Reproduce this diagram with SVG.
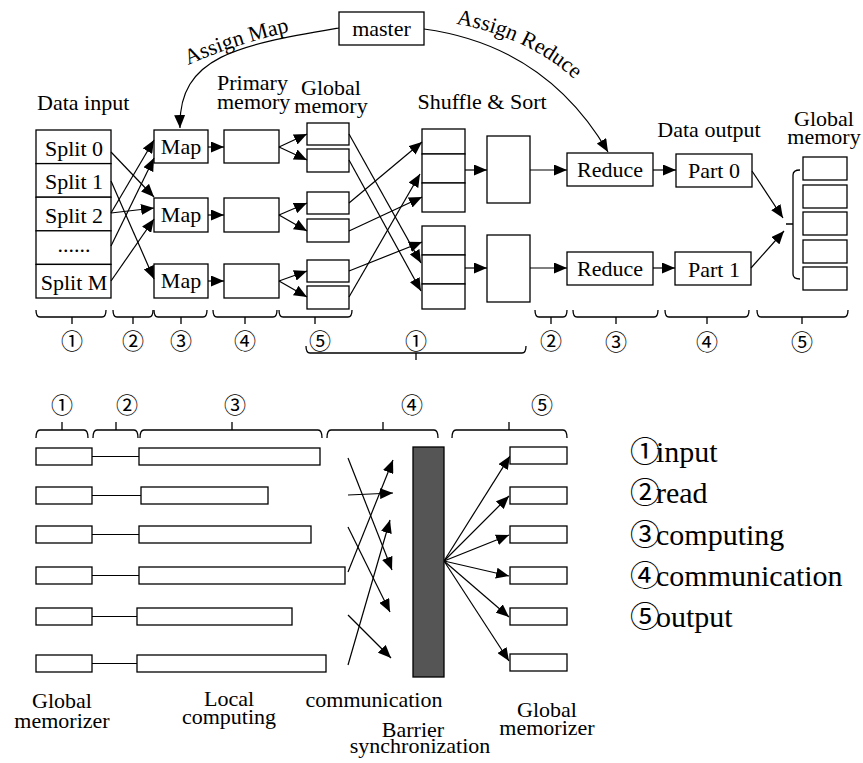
<svg xmlns="http://www.w3.org/2000/svg" width="863" height="763" viewBox="0 0 863 763">
<style>
text{font-family:"Liberation Serif","Times New Roman","DejaVu Serif",serif;fill:#000;font-size:22px}
.m{text-anchor:middle}
.b{fill:#fff;stroke:#000;stroke-width:1.3}
.c{fill:none;stroke:#000;stroke-width:1.2}
.a{marker-end:url(#ah)}
.br{fill:none;stroke:#000;stroke-width:1.3}
.n{font-size:22px;text-anchor:middle;font-family:"Noto Sans CJK SC","Noto Sans CJK JP",sans-serif}
.cj{font-family:"Noto Sans CJK SC","Noto Sans CJK JP",sans-serif}
.lg{font-size:30px}
.bar{fill:#555;stroke:#000;stroke-width:1.3}
</style>
<defs>
<marker id="ah" viewBox="0 0 13 11" refX="13" refY="5.5" markerWidth="13" markerHeight="11" markerUnits="userSpaceOnUse" orient="auto"><path d="M0,0 L13,5.5 L0,11 z" fill="#000"/></marker>
<path id="tpMap" d="M188,65 Q240,42 302,29"/>
<path id="tpRed" d="M456,24 C505,32 555,55 592,97"/>
</defs>

<g id="labels-top">
<text x="37" y="110">Data input</text>
<text x="217" y="90">Primary</text>
<text x="217" y="109">memory</text>
<text x="331" y="95" class="m">Global</text>
<text x="331" y="113" class="m">memory</text>
<text x="482" y="109" class="m">Shuffle &amp; Sort</text>
<text x="709" y="137" class="m">Data output</text>
<text x="824" y="126" class="m">Global</text>
<text x="824" y="144" class="m">memory</text>
</g>

<g id="master"><rect class="b" x="339" y="12" width="85" height="33"/><text x="381.5" y="36" class="m">master</text></g>

<g id="splits">
<rect class="b" x="36" y="130" width="75" height="33.6"/>
<rect class="b" x="36" y="163.6" width="75" height="33.6"/>
<rect class="b" x="36" y="197.2" width="75" height="33.6"/>
<rect class="b" x="36" y="230.8" width="75" height="33.6"/>
<rect class="b" x="36" y="264.4" width="75" height="33.6"/>
<text x="74" y="156" class="m">Split 0</text>
<text x="74" y="189" class="m">Split 1</text>
<text x="74" y="223" class="m">Split 2</text>
<text x="74" y="252" class="m">......</text>
<text x="74" y="290" class="m">Split M</text>
</g>

<g id="map1"><rect class="b" x="154" y="130" width="54" height="33"/><text x="181" y="154" class="m">Map</text></g>
<g id="map2"><rect class="b" x="154" y="198" width="54" height="34"/><text x="181" y="222" class="m">Map</text></g>
<g id="map3"><rect class="b" x="154" y="264" width="54" height="34"/><text x="181" y="288" class="m">Map</text></g>

<g id="primary1"><rect class="b" x="224" y="130" width="55" height="33"/></g>
<g id="primary2"><rect class="b" x="224" y="198" width="55" height="34"/></g>
<g id="primary3"><rect class="b" x="224" y="264" width="55" height="34"/></g>

<g id="gmem">
<rect class="b" x="307" y="123" width="42" height="22"/>
<rect class="b" x="307" y="149" width="42" height="23"/>
<rect class="b" x="307" y="192" width="42" height="22"/>
<rect class="b" x="307" y="219" width="42" height="23"/>
<rect class="b" x="307" y="260" width="42" height="22"/>
<rect class="b" x="307" y="286" width="42" height="23"/>
</g>

<g id="shuffle1">
<rect class="b" x="422" y="129" width="43" height="25"/>
<rect class="b" x="422" y="154" width="43" height="29"/>
<rect class="b" x="422" y="183" width="43" height="29"/>
</g>
<g id="shuffle2">
<rect class="b" x="422" y="226" width="43" height="29"/>
<rect class="b" x="422" y="255" width="43" height="29"/>
<rect class="b" x="422" y="284" width="43" height="25"/>
</g>
<g id="sort1"><rect class="b" x="487" y="136" width="43" height="67"/></g>
<g id="sort2"><rect class="b" x="487" y="235" width="43" height="67"/></g>

<g id="reduce1"><rect class="b" x="567" y="153" width="86" height="33"/><text x="610" y="177" class="m">Reduce</text></g>
<g id="reduce2"><rect class="b" x="567" y="252" width="86" height="33"/><text x="610" y="276" class="m">Reduce</text></g>
<g id="part0"><rect class="b" x="676" y="154" width="76" height="33"/><text x="714" y="178" class="m">Part 0</text></g>
<g id="part1"><rect class="b" x="675" y="252" width="76" height="33"/><text x="714" y="277" class="m">Part 1</text></g>

<g id="gmem-out">
<rect class="b" x="803" y="157" width="44" height="23"/>
<rect class="b" x="803" y="185" width="44" height="23"/>
<rect class="b" x="803" y="212" width="44" height="23"/>
<rect class="b" x="803" y="240" width="44" height="23"/>
<rect class="b" x="803" y="267" width="44" height="23"/>
<path class="br" d="M800,170 Q793,170 793,175 L793,274 Q793,279 800,279 M786,224 L793,224"/>
</g>

<g id="connectors">
<path class="c a" d="M339,28 C240,45 178,55 180,128"/>
<path class="c a" d="M424,29 C490,38 560,70 608,152"/>
<path class="c a" d="M111,152 L154,197"/>
<path class="c a" d="M111,181 L154,279"/>
<path class="c a" d="M111,213 L154,140"/>
<path class="c a" d="M111,213 L154,208"/>
<path class="c a" d="M111,246 L154,158"/>
<path class="c a" d="M111,281 L154,219"/>
<path class="c a" d="M208,147 L224,147"/>
<path class="c a" d="M208,215 L224,215"/>
<path class="c a" d="M208,281 L224,281"/>
<path class="c a" d="M279,147 L307,134"/>
<path class="c a" d="M279,147 L307,160"/>
<path class="c a" d="M279,215 L307,203"/>
<path class="c a" d="M279,215 L307,231"/>
<path class="c a" d="M279,281 L307,271"/>
<path class="c a" d="M279,281 L307,297"/>
<path class="c a" d="M349,134 L421,263"/>
<path class="c a" d="M349,160 L421,291"/>
<path class="c a" d="M349,203 L422,142"/>
<path class="c a" d="M349,231 L422,197"/>
<path class="c a" d="M349,271 L422,242"/>
<path class="c a" d="M349,297 L420,174"/>
<path class="c a" d="M465,170 L487,170"/>
<path class="c a" d="M465,268 L487,268"/>
<path class="c a" d="M530,170 L567,170"/>
<path class="c a" d="M530,268 L567,268"/>
<path class="c a" d="M653,170 L676,170"/>
<path class="c a" d="M653,268 L675,268"/>
<path class="c a" d="M752,171 L783,218"/>
<path class="c a" d="M751,268 L784,231"/>
<path class="c" d="M92,456.5 L139,456.5 M92,495.5 L141,495.5 M92,534.5 L139,534.5 M92,575.5 L139,575.5 M92,616.5 L137,616.5 M92,663.5 L137,663.5"/>
<path class="c a" d="M348,458 L392,570"/>
<path class="c a" d="M348,495 L393,493"/>
<path class="c a" d="M348,572 L393,460"/>
<path class="c a" d="M348,665 L390,520"/>
<path class="c a" d="M348,527 L390,612"/>
<path class="c a" d="M348,615 L391,658"/>
<path class="c a" d="M444,561 L510,456"/>
<path class="c a" d="M444,561 L509,496"/>
<path class="c a" d="M444,561 L509,535"/>
<path class="c a" d="M444,561 L509,576"/>
<path class="c a" d="M444,561 L509,617"/>
<path class="c a" d="M444,561 L509,661"/>
</g>

<g id="assign-labels">
<text><textPath href="#tpMap">Assign Map</textPath></text>
<text><textPath href="#tpRed">Assign Reduce</textPath></text>
</g>

<g id="braces-top">
<path class="br" d="M36,310 Q36,317 40,317 L102,317 Q106,317 106,310 M72,317 L72,324"/>
<path class="br" d="M113,310 Q113,317 117,317 L149,317 Q153,317 153,310 M133,317 L133,324"/>
<path class="br" d="M154,310 Q154,317 158,317 L203,317 Q207,317 207,310 M181,317 L181,324"/>
<path class="br" d="M213,310 Q213,317 217,317 L273,317 Q277,317 277,310 M245,317 L245,324"/>
<path class="br" d="M279,310 Q279,317 283,317 L348,317 Q352,317 352,310 M315,317 L315,324"/>
<path class="br" d="M306,346 Q306,353 310,353 L522,353 Q526,353 526,346 M416,353 L416,360"/>
<path class="br" d="M535,310 Q535,317 539,317 L563,317 Q567,317 567,310 M551,317 L551,324"/>
<path class="br" d="M573,310 Q573,317 577,317 L654,317 Q658,317 658,310 M616,317 L616,324"/>
<path class="br" d="M665,310 Q665,317 669,317 L745,317 Q749,317 749,310 M707,317 L707,324"/>
<path class="br" d="M757,310 Q757,317 761,317 L844,317 Q848,317 848,310 M802,317 L802,324"/>
<text x="72" y="349" class="n">①</text>
<text x="133" y="349" class="n">②</text>
<text x="181" y="349" class="n">③</text>
<text x="245" y="349" class="n">④</text>
<text x="320" y="349" class="n">⑤</text>
<text x="416" y="349" class="n">①</text>
<text x="551" y="349" class="n">②</text>
<text x="616" y="350" class="n">③</text>
<text x="707" y="350" class="n">④</text>
<text x="802" y="350" class="n">⑤</text>
</g>

<g id="braces-bottom">
<path class="br" d="M36,438 Q36,430 40,430 L84,430 Q88,430 88,438 M62,430 L62,422"/>
<path class="br" d="M93,438 Q93,430 97,430 L134,430 Q138,430 138,438 M116,430 L116,422"/>
<path class="br" d="M140,438 Q140,430 144,430 L318,430 Q322,430 322,438 M232,430 L232,422"/>
<path class="br" d="M327,438 Q327,430 331,430 L434,430 Q438,430 438,438 M383,430 L383,422"/>
<path class="br" d="M452,438 Q452,430 456,430 L563,430 Q567,430 567,438 M509,430 L509,422"/>
<text x="62" y="413" class="n">①</text>
<text x="127" y="413" class="n">②</text>
<text x="235" y="413" class="n">③</text>
<text x="412" y="413" class="n">④</text>
<text x="542" y="413" class="n">⑤</text>
</g>

<g id="rows-in">
<rect class="b" x="36" y="448" width="56" height="17"/>
<rect class="b" x="36" y="487" width="56" height="17"/>
<rect class="b" x="36" y="526" width="56" height="17"/>
<rect class="b" x="36" y="567" width="56" height="17"/>
<rect class="b" x="36" y="608" width="56" height="17"/>
<rect class="b" x="36" y="655" width="56" height="17"/>
</g>
<g id="rows-compute">
<rect class="b" x="139" y="448" width="181" height="17"/>
<rect class="b" x="141" y="487" width="127" height="17"/>
<rect class="b" x="139" y="526" width="172" height="17"/>
<rect class="b" x="139" y="567" width="206" height="17"/>
<rect class="b" x="137" y="608" width="155" height="17"/>
<rect class="b" x="137" y="655" width="189" height="17"/>
</g>
<g id="barrier"><rect class="bar" x="413" y="447" width="31" height="230"/></g>
<g id="rows-out">
<rect class="b" x="510" y="447" width="57" height="17"/>
<rect class="b" x="510" y="487" width="57" height="17"/>
<rect class="b" x="510" y="526" width="57" height="17"/>
<rect class="b" x="510" y="567" width="57" height="17"/>
<rect class="b" x="510" y="608" width="57" height="17"/>
<rect class="b" x="510" y="654" width="57" height="17"/>
</g>

<g id="labels-bottom">
<text x="62" y="708" class="m">Global</text>
<text x="62" y="728" class="m">memorizer</text>
<text x="229" y="706" class="m">Local</text>
<text x="229" y="724" class="m">computing</text>
<text x="374" y="707" class="m">communication</text>
<text x="413" y="737" class="m">Barrier</text>
<text x="420" y="753" class="m">synchronization</text>
<text x="547" y="717" class="m">Global</text>
<text x="547" y="735" class="m">memorizer</text>
</g>

<g id="legend">
<text class="lg" x="630" y="462"><tspan class="cj">①</tspan><tspan x="656">input</tspan></text>
<text class="lg" x="630" y="503"><tspan class="cj">②</tspan><tspan x="656">read</tspan></text>
<text class="lg" x="630" y="545"><tspan class="cj">③</tspan><tspan x="656">computing</tspan></text>
<text class="lg" x="630" y="586"><tspan class="cj">④</tspan><tspan x="656">communication</tspan></text>
<text class="lg" x="630" y="627"><tspan class="cj">⑤</tspan><tspan x="656">output</tspan></text>
</g>
</svg>
